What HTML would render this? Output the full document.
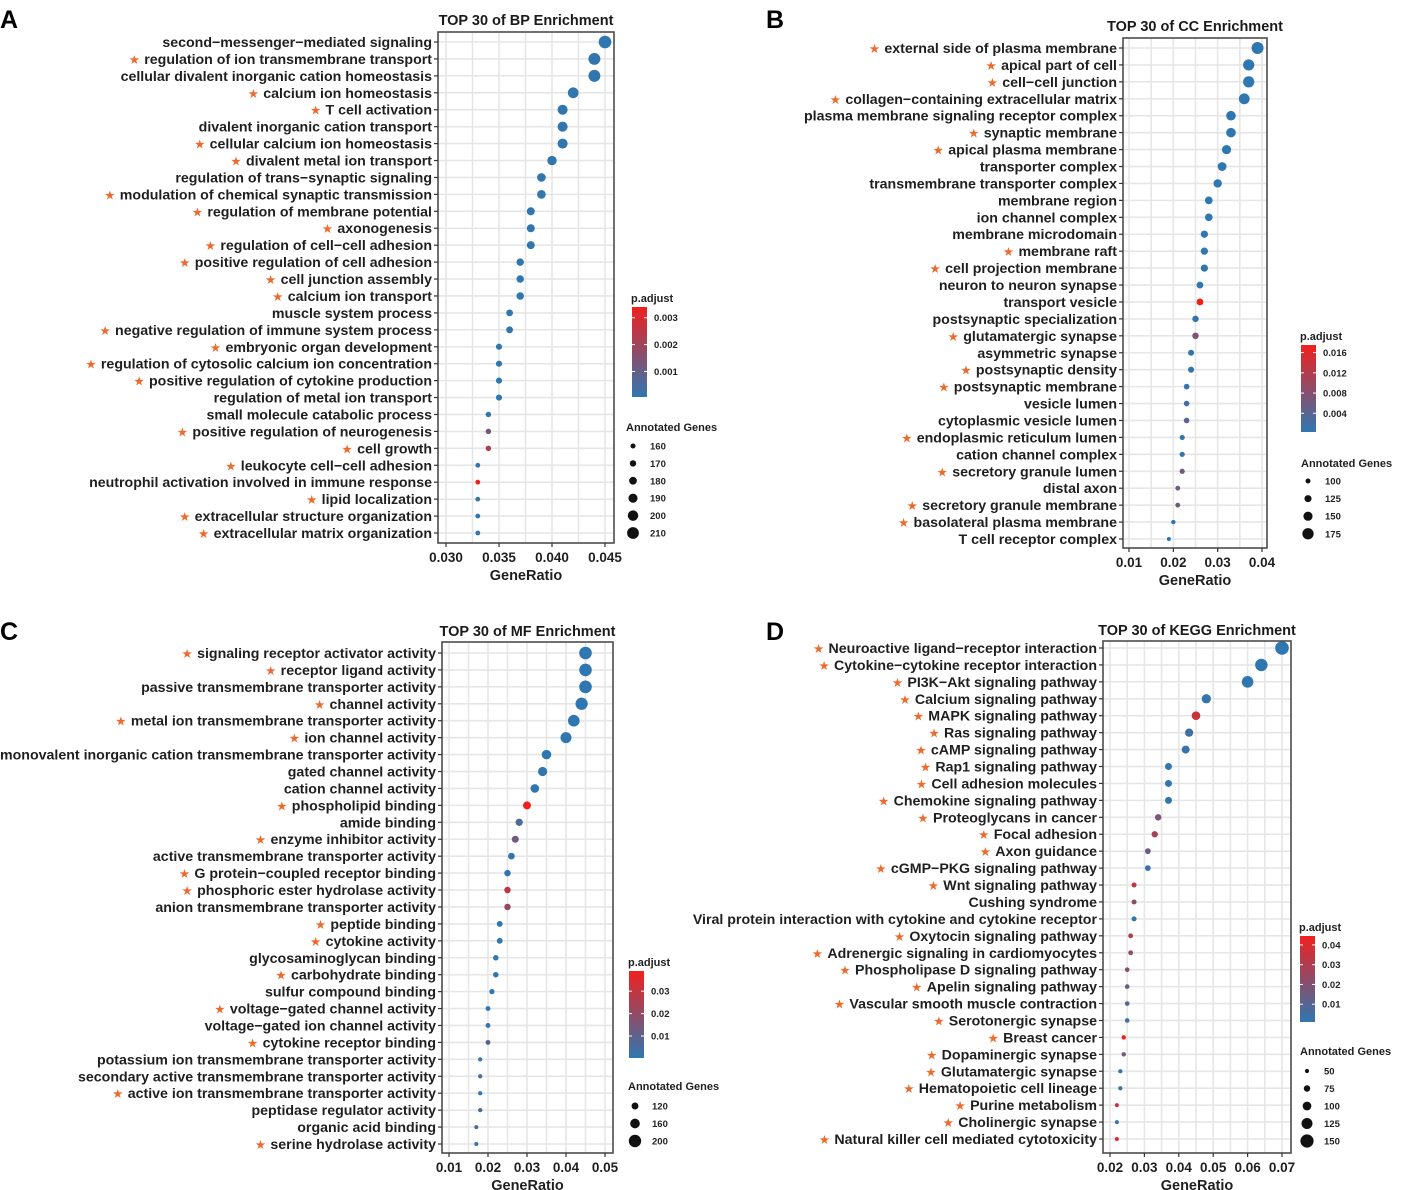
<!DOCTYPE html>
<html><head><meta charset="utf-8"><title>Enrichment dot plots</title>
<style>
html,body{margin:0;padding:0;background:#fff;}
svg{display:block;font-family:"Liberation Sans",Arial,"DejaVu Sans",sans-serif;}
</style></head>
<body>
<svg id="fig" width="1402" height="1190" viewBox="0 0 1402 1190" xmlns="http://www.w3.org/2000/svg">
<text x="0" y="28" font-size="25" font-weight="bold" fill="#000">A</text>
<text x="766" y="28" font-size="25" font-weight="bold" fill="#000">B</text>
<text x="0" y="640" font-size="25" font-weight="bold" fill="#000">C</text>
<text x="766" y="640" font-size="25" font-weight="bold" fill="#000">D</text>
</svg>
<script>
// ---------- Panel A: BP ----------
const aLabels = ["second−messenger−mediated signaling","★regulation of ion transmembrane transport","cellular divalent inorganic cation homeostasis","★calcium ion homeostasis","★T cell activation","divalent inorganic cation transport","★cellular calcium ion homeostasis","★divalent metal ion transport","regulation of trans−synaptic signaling","★modulation of chemical synaptic transmission","★regulation of membrane potential","★axonogenesis","★regulation of cell−cell adhesion","★positive regulation of cell adhesion","★cell junction assembly","★calcium ion transport","muscle system process","★negative regulation of immune system process","★embryonic organ development","★regulation of cytosolic calcium ion concentration","★positive regulation of cytokine production","regulation of metal ion transport","small molecule catabolic process","★positive regulation of neurogenesis","★cell growth","★leukocyte cell−cell adhesion","neutrophil activation involved in immune response","★lipid localization","★extracellular structure organization","★extracellular matrix organization"];
const aRatio = [0.045,0.044,0.044,0.042,0.041,0.041,0.041,0.040,0.039,0.039,0.038,0.038,0.038,0.037,0.037,0.037,0.036,0.036,0.035,0.035,0.035,0.035,0.034,0.034,0.034,0.033,0.033,0.033,0.033,0.033];
const aCount = [216,211,211,202,197,197,197,192,187,187,182,182,182,178,178,178,173,173,168,168,168,168,163,163,163,158,158,158,158,158];
const aPadj = [0.00005,0.0001,0.0001,0.0001,0.0001,0.0001,0.0001,0.0001,0.0001,0.0001,0.0001,0.0001,0.0001,0.0001,0.0001,0.0001,0.0001,0.0001,0.0001,0.0001,0.0001,0.0001,0.0001,0.0012,0.0022,0.0001,0.0034,0.0001,0.0001,0.0001];
const aXTicks = [0.030,0.035,0.040,0.045];
const aXTickLabels = ["0.030","0.035","0.040","0.045"];
const aSizeBreaks = [160,170,180,190,200,210];
const aColorTicks = [0.001,0.002,0.003];
const aColorTickLabels = ["0.001","0.002","0.003"];

// ---------- Panel B: CC ----------
const bLabels = ["★external side of plasma membrane","★apical part of cell","★cell−cell junction","★collagen−containing extracellular matrix","plasma membrane signaling receptor complex","★synaptic membrane","★apical plasma membrane","transporter complex","transmembrane transporter complex","membrane region","ion channel complex","membrane microdomain","★membrane raft","★cell projection membrane","neuron to neuron synapse","transport vesicle","postsynaptic specialization","★glutamatergic synapse","asymmetric synapse","★postsynaptic density","★postsynaptic membrane","vesicle lumen","cytoplasmic vesicle lumen","★endoplasmic reticulum lumen","cation channel complex","★secretory granule lumen","distal axon","★secretory granule membrane","★basolateral plasma membrane","T cell receptor complex"];
const bRatio = [0.039,0.037,0.037,0.036,0.033,0.033,0.032,0.031,0.030,0.028,0.028,0.027,0.027,0.027,0.026,0.026,0.025,0.025,0.024,0.024,0.023,0.023,0.023,0.022,0.022,0.022,0.021,0.021,0.020,0.019];
const bCount = [183,174,174,169,155,155,150,146,141,132,132,127,127,127,122,122,118,118,113,113,108,108,108,103,103,103,99,99,94,89];
const bPadj = [0.0003,0.0003,0.0003,0.0003,0.0003,0.0003,0.0003,0.0003,0.0003,0.0003,0.0003,0.0003,0.0003,0.0003,0.0003,0.0175,0.0008,0.007,0.0005,0.0005,0.0008,0.002,0.004,0.0005,0.0005,0.006,0.006,0.006,0.0005,0.0005];
const bXTicks = [0.01,0.02,0.03,0.04];
const bXTickLabels = ["0.01","0.02","0.03","0.04"];
const bSizeBreaks = [100,125,150,175];
const bColorTicks = [0.004,0.008,0.012,0.016];
const bColorTickLabels = ["0.004","0.008","0.012","0.016"];

// ---------- Panel C: MF ----------
const cLabels = ["★signaling receptor activator activity","★receptor ligand activity","passive transmembrane transporter activity","★channel activity","★metal ion transmembrane transporter activity","★ion channel activity","monovalent inorganic cation transmembrane transporter activity","gated channel activity","cation channel activity","★phospholipid binding","amide binding","★enzyme inhibitor activity","active transmembrane transporter activity","★G protein−coupled receptor binding","★phosphoric ester hydrolase activity","anion transmembrane transporter activity","★peptide binding","★cytokine activity","glycosaminoglycan binding","★carbohydrate binding","sulfur compound binding","★voltage−gated channel activity","voltage−gated ion channel activity","★cytokine receptor binding","potassium ion transmembrane transporter activity","secondary active transmembrane transporter activity","★active ion transmembrane transporter activity","peptidase regulator activity","organic acid binding","★serine hydrolase activity"];
const cRatio = [0.045,0.045,0.045,0.044,0.042,0.040,0.035,0.034,0.032,0.030,0.028,0.027,0.026,0.025,0.025,0.025,0.023,0.023,0.022,0.022,0.021,0.020,0.020,0.020,0.018,0.018,0.018,0.018,0.017,0.017];
const cCount = [203,203,203,198,189,180,158,153,144,135,126,122,117,113,113,113,104,104,99,99,95,90,90,90,81,81,81,81,77,77];
const cPadj = [0.0002,0.0002,0.0002,0.0002,0.0002,0.0002,0.0002,0.0002,0.0002,0.039,0.006,0.013,0.001,0.001,0.028,0.021,0.0005,0.0005,0.0005,0.0005,0.0005,0.0005,0.001,0.009,0.0005,0.004,0.0008,0.005,0.006,0.004];
const cXTicks = [0.01,0.02,0.03,0.04,0.05];
const cXTickLabels = ["0.01","0.02","0.03","0.04","0.05"];
const cSizeBreaks = [120,160,200];
const cColorTicks = [0.01,0.02,0.03];
const cColorTickLabels = ["0.01","0.02","0.03"];

// ---------- Panel D: KEGG ----------
const dLabels = ["★Neuroactive ligand−receptor interaction","★Cytokine−cytokine receptor interaction","★PI3K−Akt signaling pathway","★Calcium signaling pathway","★MAPK signaling pathway","★Ras signaling pathway","★cAMP signaling pathway","★Rap1 signaling pathway","★Cell adhesion molecules","★Chemokine signaling pathway","★Proteoglycans in cancer","★Focal adhesion","★Axon guidance","★cGMP−PKG signaling pathway","★Wnt signaling pathway","Cushing syndrome","Viral protein interaction with cytokine and cytokine receptor","★Oxytocin signaling pathway","★Adrenergic signaling in cardiomyocytes","★Phospholipase D signaling pathway","★Apelin signaling pathway","★Vascular smooth muscle contraction","★Serotonergic synapse","★Breast cancer","★Dopaminergic synapse","★Glutamatergic synapse","★Hematopoietic cell lineage","★Purine metabolism","★Cholinergic synapse","★Natural killer cell mediated cytotoxicity"];
const dRatio = [0.070,0.064,0.060,0.048,0.045,0.043,0.042,0.037,0.037,0.037,0.034,0.033,0.031,0.031,0.027,0.027,0.027,0.026,0.026,0.025,0.025,0.025,0.025,0.024,0.024,0.023,0.023,0.022,0.022,0.022];
const dCount = [154,141,132,106,99,95,92,81,81,81,75,73,68,68,59,59,59,57,57,55,55,55,55,53,53,51,51,48,48,48];
const dPadj = [0.001,0.001,0.001,0.002,0.036,0.004,0.003,0.002,0.002,0.002,0.018,0.027,0.015,0.003,0.034,0.022,0.002,0.030,0.022,0.020,0.012,0.010,0.003,0.0445,0.016,0.002,0.002,0.035,0.003,0.042];
const dXTicks = [0.02,0.03,0.04,0.05,0.06,0.07];
const dXTickLabels = ["0.02","0.03","0.04","0.05","0.06","0.07"];
const dSizeBreaks = [50,75,100,125,150];
const dColorTicks = [0.01,0.02,0.03,0.04];
const dColorTickLabels = ["0.01","0.02","0.03","0.04"];

const NS = "http://www.w3.org/2000/svg";
const svg = document.getElementById("fig");
function mk(tag, attrs, parent) {
  const el = document.createElementNS(NS, tag);
  for (const k in attrs) el.setAttribute(k, attrs[k]);
  (parent || svg).appendChild(el);
  return el;
}
const LOW = [47,119,176], HIGH = [240,32,30];
function colorFor(t) {
  t = Math.max(0, Math.min(1, t));
  const c = LOW.map((v, i) => Math.round(v + (HIGH[i] - v) * t));
  return "rgb(" + c.join(",") + ")";
}

function drawPanel(key, geo, title, labels, ratio, count, padj, xTicks, xTickLabels, sizeBreaks, cTicks, cTickLabels) {
  const g = mk("g", {});
  
  
  const xs = v => geo.x0 + (v - geo.v0) / (geo.v1 - geo.v0) * (geo.x1 - geo.x0);
  const ys = i => geo.rTop + i * (geo.rBot - geo.rTop) / (labels.length - 1);
  const cmin = Math.min(...count), cmax = Math.max(...count);
  const rs = c => Math.max(1.3, geo.r0 + (c - cmin) / (cmax - cmin) * (geo.r1 - geo.r0));
  const pmin = Math.min(...padj), pmax = Math.max(...padj);

  const t = mk("text", {x: (geo.L + geo.R) / 2, y: geo.titleY, "text-anchor": "middle", "font-size": 14.5, "font-weight": "bold", fill: "#1a1a1a"}, g);
  t.textContent = title;
  
  

  mk("rect", {x: geo.L, y: geo.T, width: geo.R - geo.L, height: geo.B - geo.T, fill: "#fff"}, g);
  const step = xTicks[1] - xTicks[0];
  const gridVals = [];
  for (let i = 0; i < xTicks.length; i++) { gridVals.push(xTicks[i]); gridVals.push(xTicks[i] + step / 2); }
  gridVals.push(xTicks[0] - step / 2);
  gridVals.forEach(v => {
    const x = xs(v);
    if (x > geo.L + 1 && x < geo.R - 1) {
      const gl = mk("line", {x1: x, x2: x, y1: geo.T, y2: geo.B, stroke: "#e6e6e6", "stroke-width": 1.6}, g);
      
      
    }
  });
  labels.forEach((l, i) => {
    const hl = mk("line", {x1: geo.L, x2: geo.R, y1: ys(i), y2: ys(i), stroke: "#e6e6e6", "stroke-width": 1.6}, g);
    
    
  });

  labels.forEach((l, i) => {
    const p = (padj[i] - pmin) / (pmax - pmin);
    const c = mk("circle", {cx: xs(ratio[i]), cy: ys(i), r: rs(count[i]), fill: colorFor(p)}, g);
    
    
  });

  const bd = mk("rect", {x: geo.L, y: geo.T, width: geo.R - geo.L, height: geo.B - geo.T, fill: "none", stroke: "#4d4d4d", "stroke-width": 1.6}, g);
  
  

  labels.forEach((l, i) => {
    const y = ys(i);
    mk("line", {x1: geo.L - 4, x2: geo.L, y1: y, y2: y, stroke: "#333", "stroke-width": 1.2}, g);
    const tx = mk("text", {x: geo.L - 6, y: y + 5, "text-anchor": "end", "font-size": 14.2, "font-weight": "bold", fill: "#1f1f1f"}, g);
    
    
    if (l.charAt(0) === "★") {
      const s = mk("tspan", {fill: "#ec6a2c", "font-size": 12.5, "font-family": "DejaVu Sans, sans-serif"}, tx);
      s.textContent = "★ ";
      const r = mk("tspan", {}, tx);
      r.textContent = l.slice(1);
    } else {
      tx.textContent = l;
    }
  });

  xTicks.forEach((v, i) => {
    const x = xs(v);
    mk("line", {x1: x, x2: x, y1: geo.B, y2: geo.B + 4, stroke: "#333", "stroke-width": 1.2}, g);
    const tx = mk("text", {x: x, y: geo.B + 19, "text-anchor": "middle", "font-size": 13.5, "font-weight": "bold", fill: "#1f1f1f"}, g);
    tx.textContent = xTickLabels[i];
    
    
  });
  const xt = mk("text", {x: (geo.L + geo.R) / 2, y: geo.B + 37, "text-anchor": "middle", "font-size": 14.5, "font-weight": "bold", fill: "#1f1f1f"}, g);
  xt.textContent = "GeneRatio";
  
  

  const cl = geo.cb;
  const pt = mk("text", {x: cl.x - 1, y: cl.y - 5, "font-size": 11, "font-weight": "bold", fill: "#1f1f1f"}, g);
  pt.textContent = "p.adjust";
  
  
  const gid = "grad-" + key;
  const defs = mk("defs", {}, g);
  const lg = mk("linearGradient", {id: gid, x1: 0, y1: 1, x2: 0, y2: 0}, defs);
  mk("stop", {offset: "0", "stop-color": colorFor(0)}, lg);
  mk("stop", {offset: "1", "stop-color": colorFor(1)}, lg);
  const bar = mk("rect", {x: cl.x, y: cl.y, width: 15, height: cl.h, fill: "url(#" + gid + ")"}, g);
  
  
  cTicks.forEach((v, i) => {
    const y = cl.y + cl.h - (v - pmin) / (pmax - pmin) * cl.h;
    mk("line", {x1: cl.x, x2: cl.x + 3, y1: y, y2: y, stroke: "#fff", "stroke-width": 1}, g);
    mk("line", {x1: cl.x + 12, x2: cl.x + 15, y1: y, y2: y, stroke: "#fff", "stroke-width": 1}, g);
    const tx = mk("text", {x: cl.x + 22, y: y + 3.5, "font-size": 9.5, "font-weight": "bold", fill: "#222"}, g);
    tx.textContent = cTickLabels[i];
    
    
  });

  const sl = geo.sl;
  const st = mk("text", {x: sl.x - 7, y: sl.titleY, "font-size": 11, "font-weight": "bold", fill: "#1f1f1f"}, g);
  st.textContent = "Annotated Genes";
  
  
  sizeBreaks.forEach((b, i) => {
    const y = sl.y0 + i * sl.dy;
    const c = mk("circle", {cx: sl.x, cy: y, r: rs(b), fill: "#111"}, g);
    
    
    const tx = mk("text", {x: sl.x + 17, y: y + 3.5, "font-size": 9.5, "font-weight": "bold", fill: "#222"}, g);
    tx.textContent = String(b);
    
    
  });
}

drawPanel("bp", {L:438,R:614,T:32,B:543,x0:446,x1:605,v0:0.030,v1:0.045,rTop:42,rBot:533,titleY:25,r0:2.4,r1:6.3,
  cb:{x:632,y:307,h:90}, sl:{x:633,titleY:431,y0:446,dy:17.4}},
  "TOP 30 of BP Enrichment", aLabels, aRatio, aCount, aPadj, aXTicks, aXTickLabels, aSizeBreaks, aColorTicks, aColorTickLabels);

drawPanel("cc", {L:1123,R:1267,T:38,B:548,x0:1129,x1:1262,v0:0.01,v1:0.04,rTop:48,rBot:539,titleY:31,r0:2,r1:6,
  cb:{x:1301,y:345,h:87}, sl:{x:1308,titleY:467,y0:481,dy:17.6}},
  "TOP 30 of CC Enrichment", bLabels, bRatio, bCount, bPadj, bXTicks, bXTickLabels, bSizeBreaks, bColorTicks, bColorTickLabels);

drawPanel("mf", {L:442,R:613,T:642,B:1153,x0:449,x1:605,v0:0.01,v1:0.05,rTop:653,rBot:1144,titleY:636,r0:2,r1:6.3,
  cb:{x:629,y:971,h:87}, sl:{x:635,titleY:1090,y0:1106,dy:17.5}},
  "TOP 30 of MF Enrichment", cLabels, cRatio, cCount, cPadj, cXTicks, cXTickLabels, cSizeBreaks, cColorTicks, cColorTickLabels);

drawPanel("kegg", {L:1103,R:1291,T:641,B:1153,x0:1110,x1:1282,v0:0.02,v1:0.07,rTop:648,rBot:1139,titleY:635,r0:2,r1:6.8,
  cb:{x:1300,y:936,h:86}, sl:{x:1307,titleY:1055,y0:1071,dy:17.5}},
  "TOP 30 of KEGG Enrichment", dLabels, dRatio, dCount, dPadj, dXTicks, dXTickLabels, dSizeBreaks, dColorTicks, dColorTickLabels);
</script>
</body></html>
